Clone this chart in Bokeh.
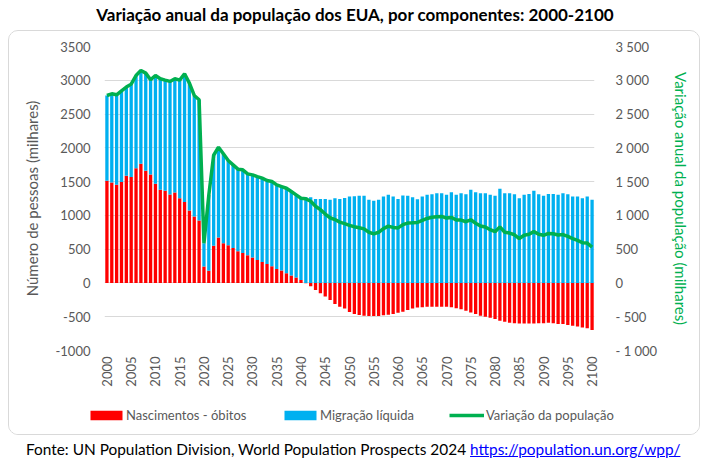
from bokeh.plotting import figure
from bokeh.models import (ColumnDataSource, Range1d, LinearAxis, FixedTicker,
                          Legend, LegendItem, Div)
from bokeh.layouts import column
from bokeh.embed import file_html
from bokeh.resources import INLINE
import math

years = list(range(2000, 2101))

# Nascimentos - óbitos (milhares)
natural = [1511, 1486, 1452, 1496, 1585, 1570, 1699, 1763, 1659, 1605,
           1467, 1378, 1363, 1309, 1338, 1254, 1200, 1072, 983, 923,
           245, 180, 550, 672, 588, 558, 518, 469, 444, 410,
           375, 341, 311, 281, 247, 207, 183, 143, 109, 79,
           44, -5, -50, -105, -153, -202, -252, -311, -351, -380,
           -430, -459, -474, -484, -489, -489, -489, -479, -469, -459,
           -440, -425, -400, -380, -365, -360, -351, -351, -351, -351,
           -351, -360, -375, -390, -410, -439, -459, -484, -499, -514,
           -533, -558, -573, -588, -598, -602, -602, -602, -602, -598,
           -598, -588, -598, -607, -607, -622, -632, -646, -661, -671,
           -696]

# Migração líquida (milhares)
migration = [1264, 1314, 1333, 1348, 1314, 1373, 1372, 1383, 1447, 1402,
             1604, 1644, 1639, 1674, 1684, 1748, 1896, 1886, 1792, 1788,
             343, 1120, 1340, 1338, 1323, 1254, 1230, 1215, 1230, 1205,
             1225, 1234, 1240, 1235, 1254, 1245, 1244, 1259, 1244, 1225,
             1210, 1269, 1269, 1244, 1244, 1244, 1230, 1254, 1244, 1259,
             1279, 1284, 1289, 1289, 1230, 1215, 1230, 1279, 1304, 1279,
             1244, 1294, 1289, 1269, 1239, 1279, 1304, 1314, 1328, 1328,
             1304, 1343, 1304, 1328, 1314, 1378, 1343, 1328, 1328, 1304,
             1289, 1393, 1328, 1328, 1314, 1254, 1304, 1318, 1363, 1314,
             1289, 1318, 1318, 1304, 1328, 1314, 1279, 1279, 1254, 1279,
             1230]

# Variação da população (milhares)
total_change = [2775, 2800, 2785, 2844, 2899, 2943, 3071, 3146, 3106, 3007,
                3071, 3022, 3002, 2983, 3022, 3002, 3096, 2958, 2775, 2711,
                588, 1300, 1890, 2010, 1911, 1812, 1748, 1684, 1674, 1615,
                1600, 1575, 1551, 1516, 1501, 1452, 1427, 1402, 1353, 1304,
                1254, 1245, 1210, 1135, 1085, 1020, 965, 938, 900, 877,
                852, 832, 818, 800, 750, 726, 750, 805, 840, 822,
                815, 862, 886, 890, 895, 925, 955, 972, 980, 985,
                960, 970, 932, 930, 906, 935, 884, 844, 827, 788,
                758, 830, 750, 738, 713, 657, 706, 720, 760, 720,
                705, 733, 728, 710, 716, 689, 655, 630, 596, 590,
                530]

y_ticks = [-1000, -500, 0, 500, 1000, 1500, 2000, 2500, 3000, 3500]
left_labels = ["-1000", "-500", "0", "500", "1000", "1500", "2000", "2500", "3000", "3500"]
right_labels = ["- 1 000", "- 500", "0", "500", "1 000", "1 500", "2 000", "2 500", "3 000", "3 500"]
x_ticks = list(range(2000, 2101, 5))

title_text = "Variação anual da população dos EUA, por componentes: 2000-2100"
source_text = "Fonte: UN Population Division, World Population Prospects 2024"
link_text = "https://population.un.org/wpp/"
legend_labels = ["Nascimentos - óbitos", "Migração líquida", "Variação da população"]

FONT = "Lato"
GREY = "#595959"
RED = "#FF0000"
BLUE = "#00B0F0"
GREEN = "#00B050"

BOX_W = 692
MAIN_H = 368
LEG_H = 37

# Excel-style stacking: positives stack upward, negatives downward from 0
blue_bottom = [n if n > 0 else 0 for n in natural]
blue_top = [b + m for b, m in zip(blue_bottom, migration)]

src = ColumnDataSource(dict(year=years, natural=natural, zero=[0] * len(years),
                            bb=blue_bottom, bt=blue_top, total=total_change))

p = figure(width=BOX_W, height=MAIN_H, output_backend="svg", toolbar_location=None,
           x_range=Range1d(1999.5, 2100.5), y_range=Range1d(-1000, 3500),
           min_border_left=95, min_border_right=105, min_border_top=15,
           min_border_bottom=49)
p.margin = 0
p.outline_line_color = None
p.background_fill_color = "white"
p.border_fill_color = "white"
p.extra_y_ranges = {"right": Range1d(-1000, 3500)}

r_red = p.vbar(x="year", bottom="zero", top="natural", width=0.68, source=src,
               fill_color=RED, line_color=None)
r_blue = p.vbar(x="year", bottom="bb", top="bt", width=0.68, source=src,
                fill_color=BLUE, line_color=None)
r_line = p.line(x="year", y="total", source=src, line_color=GREEN,
                line_width=3.5, y_range_name="right")

# axes
xa = p.xaxis[0]
xa.ticker = FixedTicker(ticks=x_ticks)
xa.major_label_orientation = math.pi / 2
xa.axis_line_color = None
xa.major_tick_line_color = None
xa.minor_tick_line_color = None
xa.major_tick_out = 0
xa.major_label_standoff = 6
xa.major_label_text_font = FONT
xa.major_label_text_font_size = "13px"
xa.major_label_text_color = GREY

ya = p.yaxis[0]
ya.ticker = FixedTicker(ticks=y_ticks)
ya.major_label_overrides = dict(zip(y_ticks, left_labels))
ya.axis_line_color = None
ya.major_tick_line_color = None
ya.minor_tick_line_color = None
ya.major_tick_out = 0
ya.major_label_standoff = 14
ya.major_label_text_font = FONT
ya.major_label_text_font_size = "13px"
ya.major_label_text_color = GREY
ya.axis_label = "Número de pessoas (milhares)"
ya.axis_label_text_font = FONT
ya.axis_label_text_font_style = "normal"
ya.axis_label_text_font_size = "15px"
ya.axis_label_text_color = GREY
ya.axis_label_standoff = 12

ra = LinearAxis(y_range_name="right", ticker=FixedTicker(ticks=y_ticks))
ra.major_label_overrides = dict(zip(y_ticks, right_labels))
ra.axis_line_color = None
ra.major_tick_line_color = None
ra.minor_tick_line_color = None
ra.major_tick_out = 0
ra.major_label_standoff = 21
ra.major_label_text_font = FONT
ra.major_label_text_font_size = "13px"
ra.major_label_text_color = GREY
ra.axis_label = "Variação anual da população (milhares)"
ra.axis_label_text_font = FONT
ra.axis_label_text_font_style = "normal"
ra.axis_label_text_font_size = "15px"
ra.axis_label_text_color = GREEN
ra.axis_label_standoff = 12
p.add_layout(ra, "right")

p.xgrid.grid_line_color = None
p.ygrid.ticker = FixedTicker(ticks=y_ticks)
p.ygrid.grid_line_color = "#D9D9D9"
p.ygrid.grid_line_width = 1

# legend strip: keys styled like the series, each key placed on its own
lp = figure(width=BOX_W, height=LEG_H, output_backend="svg", toolbar_location=None,
            x_range=Range1d(0, 1), y_range=Range1d(0, 1), x_axis_type=None,
            y_axis_type=None, min_border=0, min_border_left=0, min_border_right=0,
            min_border_top=0, min_border_bottom=0)
lp.margin = 0
lp.outline_line_color = None
lp.grid.grid_line_color = None
# do not align the legend strip's frame with the chart's frame
for fig in (p, lp):
    if "frame_align" in fig.properties():
        fig.frame_align = False

# keys sit outside the visible range, only their legend entries show
k_red = lp.vbar(x=[-5], top=[-5], width=0.68, fill_color=RED, line_color=None)
k_blue = lp.vbar(x=[-5], top=[-5], width=0.68, fill_color=BLUE, line_color=None)
k_line = lp.line(x=[-5, -4], y=[-5, -5], line_color=GREEN, line_width=3.5)

def make_legend(label, renderer, x, glyph_w, standoff):
    lg = Legend(items=[LegendItem(label=label, renderers=[renderer])],
                orientation="horizontal", location=(x, 11))
    lg.glyph_width = glyph_w
    lg.glyph_height = 12
    lg.label_height = 20
    lg.label_standoff = standoff
    lg.padding = 0
    lg.margin = 0
    lg.label_text_font = FONT
    lg.label_text_font_size = "13px"
    lg.label_text_color = GREY
    lg.background_fill_alpha = 0
    lg.border_line_color = None
    return lg

lp.add_layout(make_legend(legend_labels[0], k_red, 77, 40, 0))
lp.add_layout(make_legend(legend_labels[1], k_blue, 271, 40, 0))
lp.add_layout(make_legend(legend_labels[2], k_line, 440, 35, 2))

box = column(p, lp, width=BOX_W, height=MAIN_H + LEG_H, spacing=0,
             margin=(0, 0, 0, 8),
             styles={"border": "1px solid #D9D9D9", "border-radius": "10px",
                     "overflow": "hidden", "background": "white"})

title_div = Div(text='<div style="width:710px;text-align:center;font-family:Lato;'
                     'font-size:17px;font-weight:bold;color:#000;line-height:30px;'
                     'white-space:nowrap;">' + title_text + '</div>',
                width=710, height=30, margin=0)
src_div = Div(text='<div style="font-family:Lato;font-size:15.4px;color:#000;'
                   'line-height:28px;padding-left:26px;white-space:nowrap;">'
                   + source_text + ' <a href="' + link_text + '" style="color:#0000FF;">'
                   + link_text + '</a></div>',
              width=710, height=28, margin=0)

layout = column(title_div, box, src_div, width=710, height=467, spacing=0, margin=0)

open("out.html", "w").write(file_html(layout, INLINE))
